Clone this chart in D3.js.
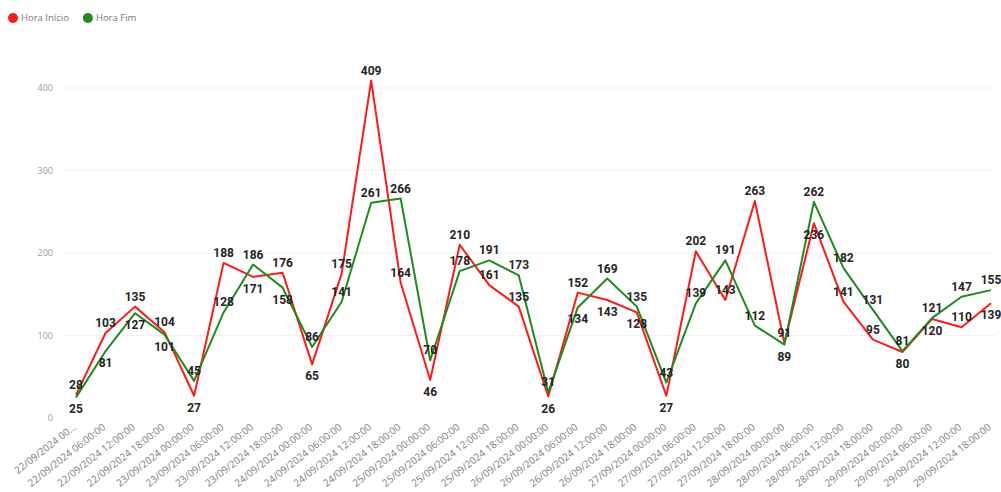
<!DOCTYPE html>
<html>
<head>
<meta charset="utf-8">
<script src="https://cdn.jsdelivr.net/npm/d3@7"></script>
<style>
  html, body { margin: 0; padding: 0; background: #fff; }
  svg { display: block; }
</style>
</head>
<body>
<svg id="chart" width="1001" height="492"></svg>
<script>
const categories = [
  "22/09/2024 00:00:00","22/09/2024 06:00:00","22/09/2024 12:00:00","22/09/2024 18:00:00",
  "23/09/2024 00:00:00","23/09/2024 06:00:00","23/09/2024 12:00:00","23/09/2024 18:00:00",
  "24/09/2024 00:00:00","24/09/2024 06:00:00","24/09/2024 12:00:00","24/09/2024 18:00:00",
  "25/09/2024 00:00:00","25/09/2024 06:00:00","25/09/2024 12:00:00","25/09/2024 18:00:00",
  "26/09/2024 00:00:00","26/09/2024 06:00:00","26/09/2024 12:00:00","26/09/2024 18:00:00",
  "27/09/2024 00:00:00","27/09/2024 06:00:00","27/09/2024 12:00:00","27/09/2024 18:00:00",
  "28/09/2024 00:00:00","28/09/2024 06:00:00","28/09/2024 12:00:00","28/09/2024 18:00:00",
  "29/09/2024 00:00:00","29/09/2024 06:00:00","29/09/2024 12:00:00","29/09/2024 18:00:00"
];
const horaInicio = [28,103,135,104,27,188,171,176,65,175,409,164,46,210,161,135,26,152,143,128,27,202,143,263,91,236,141,95,80,120,110,139];
const horaFim    = [25,81,127,101,45,128,186,158,86,141,261,266,70,178,191,173,31,134,169,135,43,139,191,112,89,262,182,131,81,121,147,155];
const yTicks = [0,100,200,300,400];
const seriesNames = ["Hora Início","Hora Fim"];
const seriesColors = ["#ff1a1a","#1f8a1f"];

const svg = d3.select("#chart");
const x = d3.scalePoint().domain(categories).range([76, 991]);
const y = d3.scaleLinear().domain([0, 400]).range([418, 88]);

// gridlines
svg.append("g").selectAll("line").data(yTicks.filter(d => d > 0)).join("line")
  .attr("x1", 62).attr("x2", 995)
  .attr("y1", d => y(d)).attr("y2", d => y(d))
  .attr("stroke", "#f1f1f1").attr("stroke-width", 1);

// y axis
const yAxis = d3.axisLeft(y).tickValues(yTicks).tickSize(0).tickPadding(0);
const gy = svg.append("g").attr("transform", "translate(53,0)").call(yAxis);
gy.select(".domain").remove();
gy.selectAll("text").attr("fill", "#9a9a9a").style("font-family", "'Open Sans', sans-serif").style("font-size", "9px");

// x axis
const ang = 38;
const xAxis = d3.axisBottom(x).tickSize(0).tickPadding(0);
const gx = svg.append("g").attr("transform", "translate(0,423)").call(xAxis);
gx.select(".domain").remove();
gx.selectAll("text")
  .attr("fill", "#7d7d7d")
  .style("font-family", "'Open Sans', sans-serif").style("font-size", "10px")
  .attr("text-anchor", "end")
  .attr("dy", "0.7em")
  .attr("transform", `translate(-4,0) rotate(${-ang})`)
  .each(function(d) {
    const el = d3.select(this);
    const maxLen = (x(d) - 4 - 12) / Math.cos(ang * Math.PI / 180);
    let t = d;
    if (this.getComputedTextLength() > maxLen) {
      while (t.length > 1) {
        t = t.slice(0, -1);
        el.text(t + "…");
        if (this.getComputedTextLength() <= maxLen) break;
      }
    }
  });

// lines
const series = [horaInicio, horaFim];
const line = d3.line().x((d, i) => x(categories[i])).y(d => y(d));
series.forEach((vals, s) => {
  svg.append("path").datum(vals)
    .attr("fill", "none").attr("stroke", seriesColors[s])
    .attr("stroke-width", 2).attr("stroke-linejoin", "round")
    .attr("d", line);
});

// data labels
const labels = svg.append("g")
  .style("font-family", "Roboto, sans-serif").style("font-weight", "700")
  .style("font-size", "12px").attr("fill", "#252423").attr("text-anchor", "middle");
categories.forEach((c, i) => {
  const a = horaInicio[i], b = horaFim[i];
  const hiIsA = a >= b;
  const hi = hiIsA ? a : b, lo = hiIsA ? b : a;
  const gap = y(lo) - y(hi);
  labels.append("text").attr("x", x(c)).attr("y", y(hi) - 6).text(hi);
  labels.append("text").attr("x", x(c)).attr("y", gap > 24 ? y(lo) - 6 : y(lo) + 16).text(lo);
});

// legend
const leg = svg.append("g");
let lx = 13;
seriesNames.forEach((n, s) => {
  leg.append("circle").attr("cx", lx).attr("cy", 18).attr("r", 5).attr("fill", seriesColors[s]);
  const t = leg.append("text").attr("x", lx + 8).attr("y", 21)
    .attr("fill", "#7a7a7a").style("font-family", "'Open Sans', sans-serif").style("font-size", "9.5px").text(n);
  lx += 8 + t.node().getComputedTextLength() + 19;
});
</script>
</body>
</html>
